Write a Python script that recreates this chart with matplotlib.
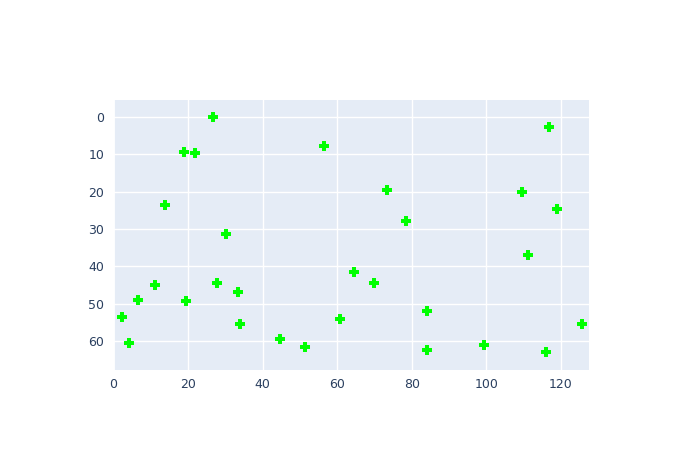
import matplotlib.pyplot as plt

# Datos
x_vals = [26.8, 19.0, 21.9, 56.4, 13.7, 30.3, 2.2, 4.1, 6.5, 11.1,
          19.4, 27.8, 33.3, 34.0, 44.8, 51.3, 60.8, 116.8, 73.4, 109.5,
          78.6, 119.1, 111.2, 64.6, 69.8, 84.1, 84.2, 99.4, 116.1, 125.6]
y_vals = [0.1, 9.5, 9.6, 7.8, 23.6, 31.3, 53.6, 60.4, 49.0, 45.1,
          49.3, 44.5, 47.0, 55.3, 59.4, 61.7, 54.2, 2.8, 19.7, 20.2,
          27.8, 24.7, 37.1, 41.6, 44.5, 52.0, 62.3, 61.1, 63.0, 55.3]
x_ticks = [0, 20, 40, 60, 80, 100, 120]
y_ticks = [0, 10, 20, 30, 40, 50, 60]

fig = plt.figure(figsize=(7, 4.5), dpi=100)
ax = fig.add_axes([0.161, 0.178, 0.68, 0.6])
ax.set_facecolor("#E5ECF6")

ax.scatter(x_vals, y_vals, marker="P", s=46, color="#00ff00", zorder=3, linewidths=0)

ax.set_xlim(-0.2, 127.5)
ax.set_ylim(67.7, -4.5)
ax.set_xticks(x_ticks)
ax.set_yticks(y_ticks)
ax.grid(color="white", linewidth=1)
ax.set_axisbelow(True)
ax.axvline(0, color="white", linewidth=2, zorder=1)
for s in ax.spines.values():
    s.set_visible(False)
ax.tick_params(length=0, labelsize=9, colors="#2a3f5f", pad=6)

fig.savefig("out.png", dpi=100)
